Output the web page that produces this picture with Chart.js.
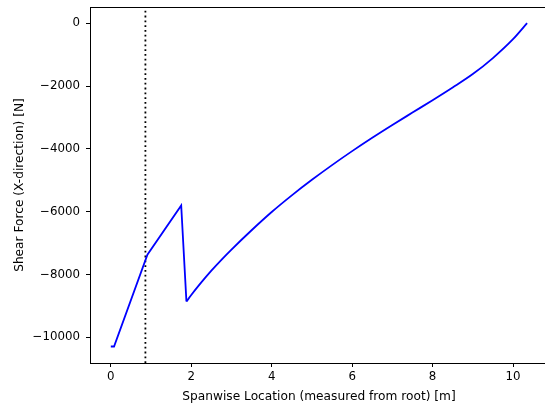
<!DOCTYPE html>
<html>
<head>
<meta charset="utf-8">
<script src="https://cdn.jsdelivr.net/npm/chart.js@4/dist/chart.umd.min.js"></script>
<style>
  html, body { margin: 0; padding: 0; background: #fff; overflow: hidden; }
  #wrap { width: 548px; height: 405px; }
</style>
</head>
<body>
<div id="wrap"><canvas id="shear" width="548" height="405"></canvas></div>
<script>
// spanwise stations [m] and shear force [N]
// first part (root to the jump) is straight segments, the rest is a smooth curve
const rootX = [0, 0.08, 0.91, 1.75, 1.88];
const rootShear = [-10290, -10290, -7370, -5800, -8860];
const spanX = [1.88, 2.0, 2.25, 2.5, 2.75, 3.0, 3.5, 4.0, 4.5, 5.0, 5.5, 6.0, 6.5, 7.0,
               7.5, 8.0, 8.5, 9.0, 9.5, 10.0, 10.35];
const spanShear = [-8860, -8650, -8250, -7875, -7530, -7205, -6590, -6010, -5480, -4985,
                   -4517, -4072, -3647, -3240, -2845, -2452, -2047, -1620, -1110, -510, 0];

// dotted marker line position
const markerX = 0.86;

// axis limits and ticks
const xLimits = [-0.5175, 10.87];
const yLimits = [-10815, 515];
const xTicks = [0, 2, 4, 6, 8, 10];
const yTicks = [-10000, -8000, -6000, -4000, -2000, 0];

const TICK_FONT = { family: "'DejaVu Sans', sans-serif", size: 11.8 };
const TITLE_FONT = { family: "'DejaVu Sans', sans-serif", size: 12.2 };

const frame = {
    id: "frame",
    afterDraw(chart) {
        const { ctx, chartArea: a } = chart;
        ctx.save();
        ctx.strokeStyle = "#000";
        ctx.lineWidth = 1;
        ctx.beginPath();
        ctx.moveTo(a.left, a.top + 0.5);
        ctx.lineTo(a.right, a.top + 0.5);
        ctx.moveTo(a.right - 0.5, a.top);
        ctx.lineTo(a.right - 0.5, a.bottom);
        ctx.stroke();
        ctx.restore();
    }
};

const minusFmt = v => String(v).replace("-", "\u2212");
const toPts = (xs, ys) => xs.map((x, i) => ({ x: x, y: ys[i] }));
// no label overhang padding, the plot box is placed by hand
const noPad = s => { s.paddingTop = 0; s.paddingBottom = 0; s.paddingLeft = 0; s.paddingRight = 0; };

new Chart(document.getElementById("shear"), {
    type: "scatter",
    data: {
        datasets: [
            {
                data: toPts(rootX, rootShear),
                showLine: true,
                borderColor: "#0000ff",
                borderWidth: 1.8,
                pointRadius: 0,
                tension: 0
            },
            {
                data: toPts(spanX, spanShear),
                showLine: true,
                borderColor: "#0000ff",
                borderWidth: 1.8,
                pointRadius: 0,
                cubicInterpolationMode: "monotone"
            },
            {
                data: [{ x: markerX, y: yLimits[0] }, { x: markerX, y: yLimits[1] }],
                showLine: true,
                borderColor: "#000",
                borderWidth: 1.8,
                borderDash: [1.8, 3],
                pointRadius: 0
            }
        ]
    },
    plugins: [frame],
    options: {
        responsive: false,
        animation: false,
        layout: { padding: { top: 7, left: 0, right: 0, bottom: 0 } },
        plugins: { legend: { display: false }, tooltip: { enabled: false } },
        scales: {
            x: {
                type: "linear",
                min: xLimits[0],
                max: xLimits[1],
                afterBuildTicks: s => { s.ticks = xTicks.map(v => ({ value: v })); },
                afterFit: s => { s.height = 42; noPad(s); },
                grid: { drawOnChartArea: false, tickLength: 4, color: "#000", lineWidth: 1 },
                border: { color: "#000", width: 1 },
                ticks: {
                    color: "#000",
                    font: TICK_FONT,
                    padding: 3,
                    maxRotation: 0,
                    autoSkip: false,
                    callback: minusFmt
                },
                title: {
                    display: true,
                    text: "Spanwise Location (measured from root) [m]",
                    color: "#000",
                    font: TITLE_FONT,
                    padding: { top: 0, bottom: 1 }
                }
            },
            y: {
                type: "linear",
                min: yLimits[0],
                max: yLimits[1],
                afterBuildTicks: s => { s.ticks = yTicks.map(v => ({ value: v })); },
                afterFit: s => { s.width = 90; noPad(s); },
                grid: { drawOnChartArea: false, tickLength: 4, color: "#000", lineWidth: 1 },
                border: { color: "#000", width: 1 },
                ticks: {
                    color: "#000",
                    font: TICK_FONT,
                    padding: 6,
                    autoSkip: false,
                    callback: minusFmt
                },
                title: {
                    display: true,
                    text: "Shear Force (X-direction) [N]",
                    color: "#000",
                    font: TITLE_FONT,
                    padding: { top: 13, bottom: 0 }
                }
            }
        }
    }
});
</script>
</body>
</html>
